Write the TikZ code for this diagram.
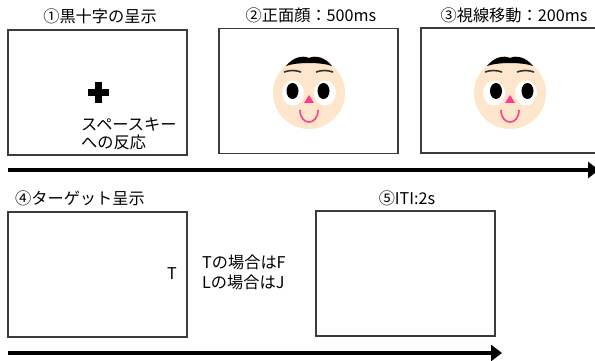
\documentclass[tikz,border=0pt]{standalone}
\usepackage{fontspec}
\setmainfont{Noto Sans CJK JP}
\usetikzlibrary{arrows.meta}
\definecolor{skin}{HTML}{FDE6CB}
\definecolor{lip}{HTML}{FF3D8B}
\definecolor{frame}{HTML}{3C3C3C}
\begin{document}
\begin{tikzpicture}[x=1pt,y=-1pt,
  screen/.style={draw=frame,line width=1.2pt,minimum width=179pt,minimum height=125pt,inner sep=0pt},
  caption/.style={inner sep=0pt,font=\fontsize{16.2}{18}\selectfont},
  timeline/.style={line width=3.5pt,-{Triangle[length=11pt,width=16pt]}},
  pics/face/.style 2 args={code={
    % head
    \fill[skin] (0,0) circle[radius=36];
    % hair
    \fill[black] (-23,-27) .. controls (-16,-36) and (-6,-38) .. (0,-35)
      .. controls (6,-38) and (16,-36) .. (23,-27)
      .. controls (12,-31) and (-12,-31) .. (-23,-27) -- cycle;
    % eyebrows
    \draw[line width=1.6pt,black!80] (-25,-21) .. controls (-19,-23) and (-14,-23) .. (-8,-21);
    \draw[line width=1.6pt,black!80] (7,-21) .. controls (13,-23) and (18,-23) .. (24,-21);
    % eyes
    \fill[white] (-16,0) ellipse[x radius=11,y radius=12.5];
    \fill[white] (16,0) ellipse[x radius=11,y radius=12.5];
    \fill[black] ({-16+#1},-2) ellipse[x radius=6,y radius=8];
    \fill[black] ({16+#2},-2) ellipse[x radius=6,y radius=8];
    % nose and mouth
    \fill[lip] (0,2) -- (-5,10) -- (5,10) -- cycle;
    \draw[lip,line width=1.6pt] (-9,17) .. controls (-9,33) and (9,33) .. (9,17);
  }}
]
\clip (0,0) rectangle (595,361);

% screens
\node[screen] (s1) at (97.5,92.5) {};
\node[screen] (s2) at (308.5,91) {};
\node[screen] (s3) at (510.5,90.5) {};
\node[screen] (s4) at (97.5,274.5) {};
\node[screen] (s5) at (405.5,273.5) {};

% step titles
\node[caption] (t1) at (100,16) {①黒十字の呈示};
\node[caption] (t2) at (311,15) {②正面顔：500ms};
\node[caption] (t3) at (514,15) {③視線移動：200ms};
\node[caption,anchor=west] (t4) at (15,198) {④ターゲット呈示};
\node[caption] (t5) at (407,198) {⑤ITI:2s};

% fixation cross
\fill (87.5,89.5) rectangle (108.5,96.5);
\fill (94.5,82.5) rectangle (101.5,103.5);
\node[caption,anchor=west,align=left] (key) at (81,134) {スペースキー\\への反応};

% faces
\pic at (309,93) {face={-0.5}{-1.5}};
\pic at (510,93) {face={2}{1.5}};

% target and response rule
\node[caption] (tg) at (172,274) {T};
\node[caption,anchor=west,align=left,font=\fontsize{16.2}{20}\selectfont] (rule) at (202,272) {Tの場合はF\\Lの場合はJ};

% time axes
\coordinate (a1s) at (8,170);
\coordinate (a1e) at (599,170);
\coordinate (a2s) at (8,353);
\coordinate (a2e) at (502,353);
\draw[timeline] (a1s) -- (a1e);
\draw[timeline] (a2s) -- (a2e);
\end{tikzpicture}
\end{document}
